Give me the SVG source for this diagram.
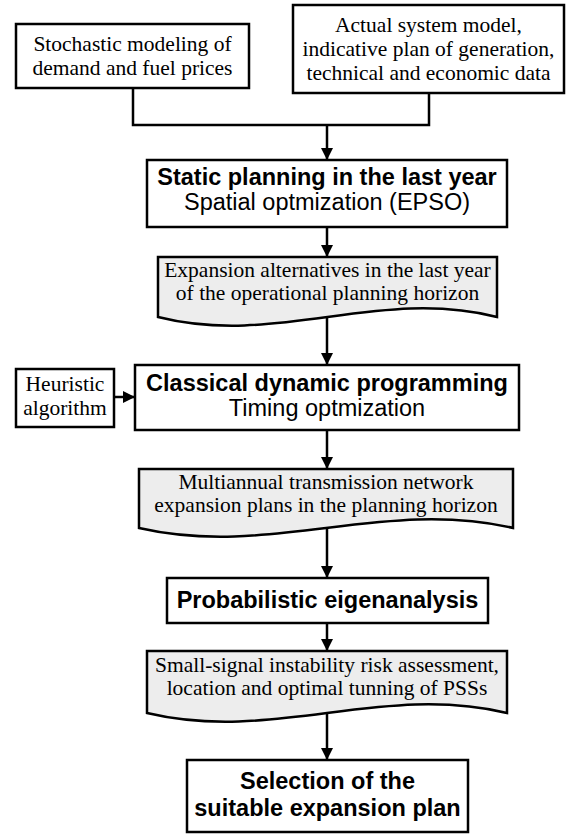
<svg xmlns="http://www.w3.org/2000/svg" width="567" height="834" viewBox="0 0 567 834">
<style>
.box{fill:#fff;stroke:#000;stroke-width:2.5}
.doc{fill:#ededed;stroke:#000;stroke-width:2.5;stroke-linejoin:miter}
.ser{font-family:"Liberation Serif","Times New Roman",serif;font-size:21.5px;text-anchor:middle;fill:#000}
.sb{font-family:"Liberation Sans",Arial,sans-serif;font-size:23.5px;font-weight:bold;text-anchor:middle;fill:#000}
.sr{font-family:"Liberation Sans",Arial,sans-serif;font-size:23.5px;text-anchor:middle;fill:#000}
.ln{fill:none;stroke:#000;stroke-width:2.5}
</style>
<defs>
<marker id="ah" markerUnits="userSpaceOnUse" markerWidth="12" markerHeight="12" refX="10" refY="5" orient="auto" viewBox="0 0 10 10">
<path d="M0,0 L10,5 L0,10 Z" fill="#000"/>
</marker>
</defs>
<g id="connectors">
<polyline class="ln" points="133,88 133,125 429,125 429,93"/>
<line class="ln" x1="327" y1="125" x2="327" y2="160" marker-end="url(#ah)"/>
<line class="ln" x1="327" y1="227" x2="327" y2="257" marker-end="url(#ah)"/>
<line class="ln" x1="327" y1="317" x2="327" y2="365" marker-end="url(#ah)"/>
<line class="ln" x1="114" y1="397" x2="135" y2="397" marker-end="url(#ah)"/>
<line class="ln" x1="327" y1="430" x2="327" y2="469" marker-end="url(#ah)"/>
<line class="ln" x1="327" y1="528" x2="327" y2="578" marker-end="url(#ah)"/>
<line class="ln" x1="327" y1="623" x2="327" y2="651" marker-end="url(#ah)"/>
<line class="ln" x1="327" y1="713" x2="327" y2="760" marker-end="url(#ah)"/>
</g>
<g id="stochastic">
<rect class="box" x="16" y="24" width="233" height="64"/>
<text class="ser" x="132.5" y="51">Stochastic modeling of</text>
<text class="ser" x="132.5" y="75">demand and fuel prices</text>
</g>
<g id="actual">
<rect class="box" x="293" y="5" width="271" height="88"/>
<text class="ser" x="428.5" y="32">Actual system model,</text>
<text class="ser" x="428.5" y="56">indicative plan of generation,</text>
<text class="ser" x="428.5" y="80">technical and economic data</text>
</g>
<g id="static">
<rect class="box" x="147" y="160" width="360" height="67"/>
<text class="sb" x="327" y="185">Static planning in the last year</text>
<text class="sr" x="327" y="210">Spatial optmization (EPSO)</text>
</g>
<g id="alternatives">
<path class="doc" d="M158,257 H497 V317 C378,287 277,347 158,317 Z"/>
<text class="ser" x="327.5" y="277">Expansion alternatives in the last year</text>
<text class="ser" x="327.5" y="300">of the operational planning horizon</text>
</g>
<g id="heuristic">
<rect class="box" x="16" y="369" width="98" height="58"/>
<text class="ser" x="65" y="391">Heuristic</text>
<text class="ser" x="65" y="415">algorithm</text>
</g>
<g id="classical">
<rect class="box" x="135" y="365" width="384" height="65"/>
<text class="sb" x="327" y="391">Classical dynamic programming</text>
<text class="sr" x="327" y="416">Timing optmization</text>
</g>
<g id="multiannual">
<path class="doc" d="M139,469 H513 V528 C382,498 270,558 139,528 Z"/>
<text class="ser" x="326" y="489">Multiannual transmission network</text>
<text class="ser" x="326" y="512">expansion plans in the planning horizon</text>
</g>
<g id="probabilistic">
<rect class="box" x="167" y="578" width="321" height="45"/>
<text class="sb" x="327.5" y="608">Probabilistic eigenanalysis</text>
</g>
<g id="smallsignal">
<path class="doc" d="M147,651 H507 V713 C381,683 273,743 147,713 Z"/>
<text class="ser" x="327" y="672">Small-signal instability risk assessment,</text>
<text class="ser" x="327" y="695">location and optimal tunning of PSSs</text>
</g>
<g id="selection">
<rect class="box" x="187" y="760" width="281" height="72"/>
<text class="sb" x="327.5" y="789">Selection of the</text>
<text class="sb" x="327.5" y="816">suitable expansion plan</text>
</g>
</svg>
